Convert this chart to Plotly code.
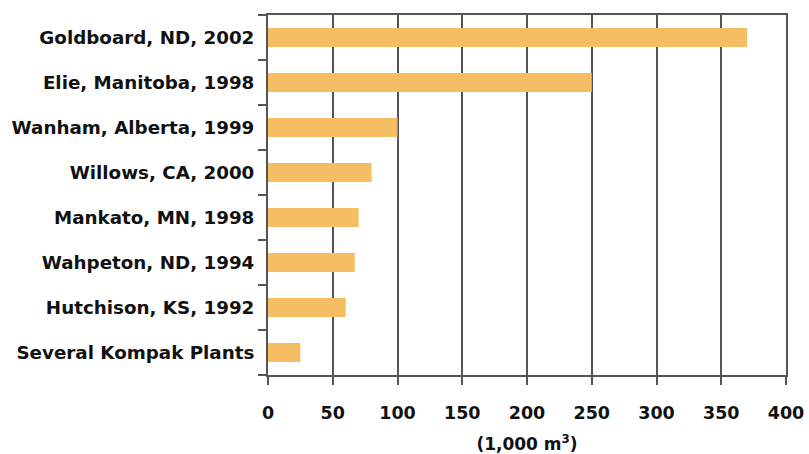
import plotly.graph_objects as go

# Plants and capacity (thousand cubic metres)
plants = [
    "Goldboard, ND, 2002",
    "Elie, Manitoba, 1998",
    "Wanham, Alberta, 1999",
    "Willows, CA, 2000",
    "Mankato, MN, 1998",
    "Wahpeton, ND, 1994",
    "Hutchison, KS, 1992",
    "Several Kompak Plants",
]
capacity = [370, 250, 100, 80, 70, 67, 60, 25]
x_ticks = [0, 50, 100, 150, 200, 250, 300, 350, 400]

font_family = "DejaVu Sans"
line_col = "#555555"
text_col = "#111111"

fig = go.Figure(
    go.Bar(
        y=plants,
        x=capacity,
        orientation="h",
        marker=dict(color="#F5BE62", line=dict(width=0)),
        width=0.42,
    )
)

fig.update_layout(
    width=809,
    height=454,
    margin=dict(l=268, r=23, t=15, b=79),
    paper_bgcolor="white",
    plot_bgcolor="white",
    showlegend=False,
    font=dict(family=font_family, color=text_col, size=16),
)

fig.update_xaxes(
    range=[0, 400],
    tickvals=x_ticks,
    ticktext=[str(v) for v in x_ticks],
    automargin=False,
    showgrid=True,
    gridcolor=line_col,
    gridwidth=2,
    showline=True,
    linecolor=line_col,
    linewidth=2,
    mirror=True,
    ticks="outside",
    ticklen=8,
    tickwidth=2,
    tickcolor=line_col,
    ticklabelstandoff=13,
    tickfont=dict(family=font_family, size=17.5, color=text_col, weight="bold"),
    title=dict(
        text="(1,000 m<sup>3</sup>)",
        font=dict(family=font_family, size=17, color=text_col, weight="bold"),
        standoff=19,
    ),
    zeroline=False,
)

fig.update_yaxes(
    categoryorder="array",
    categoryarray=plants[::-1],
    autorange=True,
    automargin=False,
    showgrid=False,
    showline=True,
    linecolor=line_col,
    linewidth=2,
    mirror=True,
    ticks="outside",
    tickson="boundaries",
    ticklen=8,
    tickwidth=2,
    tickcolor=line_col,
    ticklabelstandoff=8,
    tickfont=dict(family=font_family, size=18.3, color=text_col, weight="bold"),
)

fig.write_html("out.html")
